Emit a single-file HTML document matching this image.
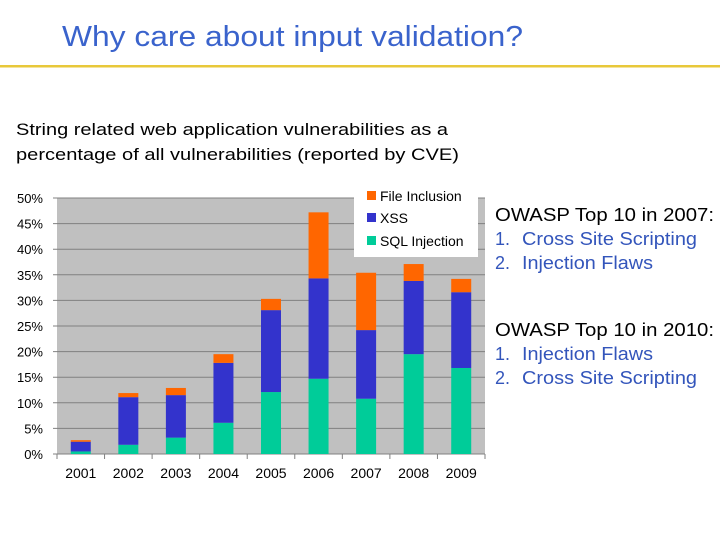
<!DOCTYPE html>
<html><head><meta charset="utf-8"><style>
body{margin:0;background:#fff;}
svg{display:block;font-family:"Liberation Sans",sans-serif;}
</style></head><body>
<svg width="720" height="540" viewBox="0 0 720 540">
<text x="62" y="46" font-size="29" fill="#3a63cc" textLength="461" lengthAdjust="spacingAndGlyphs">Why care about input validation?</text>
<rect x="0" y="65" width="720" height="2.5" fill="#e8c83a"/>
<text x="16" y="135" font-size="17" fill="#000" textLength="432" lengthAdjust="spacingAndGlyphs">String related web application vulnerabilities as a</text>
<text x="16" y="160" font-size="17" fill="#000" textLength="443" lengthAdjust="spacingAndGlyphs">percentage of all vulnerabilities (reported by CVE)</text>
<g id="chart"></g>
<g font-size="18">
<text x="495" y="221" fill="#000" textLength="219" lengthAdjust="spacingAndGlyphs">OWASP Top 10 in 2007:</text>
<text x="495" y="245" fill="#3355bb">1.</text><text x="522" y="245" fill="#3355bb" textLength="175" lengthAdjust="spacingAndGlyphs">Cross Site Scripting</text>
<text x="495" y="269" fill="#3355bb">2.</text><text x="522" y="269" fill="#3355bb" textLength="131" lengthAdjust="spacingAndGlyphs">Injection Flaws</text>
</g>
<g font-size="18">
<text x="495" y="336" fill="#000" textLength="219" lengthAdjust="spacingAndGlyphs">OWASP Top 10 in 2010:</text>
<text x="495" y="360" fill="#3355bb">1.</text><text x="522" y="360" fill="#3355bb" textLength="131" lengthAdjust="spacingAndGlyphs">Injection Flaws</text>
<text x="495" y="384" fill="#3355bb">2.</text><text x="522" y="384" fill="#3355bb" textLength="175" lengthAdjust="spacingAndGlyphs">Cross Site Scripting</text>
</g>
</svg>
<script>
const categories=["2001","2002","2003","2004","2005","2006","2007","2008","2009"];
const sqlValues=[0.5,1.8,3.2,6.1,12.1,14.7,10.8,19.5,16.8];
const xssValues=[1.9,9.3,8.3,11.7,16.0,19.6,13.4,14.3,14.8];
const fileInclusionValues=[0.3,0.8,1.4,1.7,2.2,12.9,11.2,3.3,2.6];
const yTicks=[0,5,10,15,20,25,30,35,40,45,50];
const NS="http://www.w3.org/2000/svg";
const g=document.getElementById('chart');
const X0=57,X1=485,Y0=454,Y1=198,YMAX=50;
const y=v=>Y0-(v/YMAX)*(Y0-Y1);
const band=(X1-X0)/categories.length;
const xc=i=>X0+band*(i+0.5);
function mk(t,a){const e=document.createElementNS(NS,t);for(const k in a)e.setAttribute(k,a[k]);g.appendChild(e);return e;}
let e=mk('rect',{x:X0,y:Y1,width:X1-X0,height:Y0-Y1,fill:'#c0c0c0'});


yTicks.forEach(t=>{
 let l=mk('line',{x1:X0-4,x2:X1,y1:y(t),y2:y(t),stroke:'#808080','stroke-width':1});
 
 
 let tx=mk('text',{x:43,y:y(t)+5,'font-size':13,'text-anchor':'end',fill:'#000'});
 tx.textContent=t+'%';
 
 
});
for(let i=0;i<=categories.length;i++){
 let l=mk('line',{x1:X0+band*i,x2:X0+band*i,y1:Y0,y2:Y0+5,stroke:'#808080'});
 
 
}
const series=[[sqlValues,'#00cc99','sql-injection'],[xssValues,'#3333cc','xss'],[fileInclusionValues,'#ff6600','file-inclusion']];
const bw=20;
categories.forEach((c,i)=>{
 let base=0;
 series.forEach(([vals,col,nm])=>{
  const v=vals[i];
  let r=mk('rect',{x:xc(i)-bw/2,y:y(base+v),width:bw,height:y(base)-y(base+v),fill:col});
  
  
  base+=v;
 });
 let tx=mk('text',{x:xc(i),y:478,'font-size':14,'text-anchor':'middle',fill:'#000'});
 tx.textContent=c;
 
 
});
let lb=mk('rect',{x:354,y:190,width:124,height:67,fill:'#fff'});


[['File Inclusion','#ff6600',200],['XSS','#3333cc',222],['SQL Injection','#00cc99',245]].forEach(([n,c,yy])=>{
 let s=mk('rect',{x:367,y:yy-9,width:9,height:9,fill:c});
 
 
 let t=mk('text',{x:380,y:yy+1,'font-size':14,fill:'#000'});
 t.textContent=n;
 
 
});
</script>
</body></html>
